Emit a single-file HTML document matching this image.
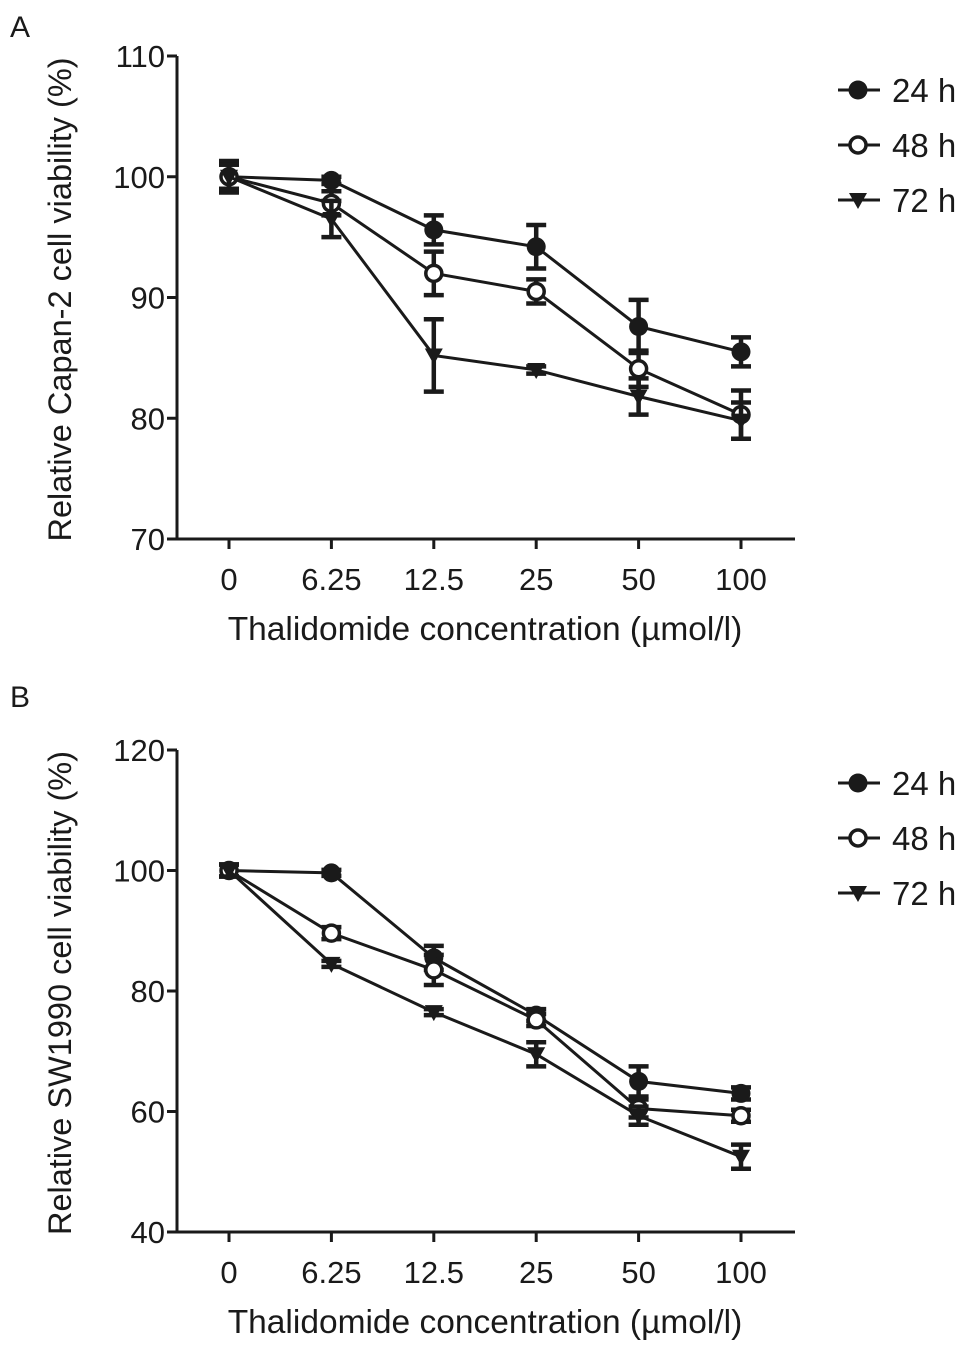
<!DOCTYPE html>
<html><head><meta charset="utf-8"><style>
body{margin:0;background:#fff}
svg text{font-family:"Liberation Sans",Arial,sans-serif;fill:#1a1a1a}
</style></head><body>
<svg id="chart" width="969" height="1352" viewBox="0 0 969 1352" xmlns="http://www.w3.org/2000/svg"></svg>
<script>
const categories=["0","6.25","12.5","25","50","100"];
const seriesNames=["24 h","48 h","72 h"];
const aTicks=[70,80,90,100,110];
const bTicks=[40,60,80,100,120];
const a24=[100,99.7,95.6,94.2,87.6,85.5];
const a24e=[1.3,0.3,1.2,1.8,2.2,1.2];
const a48=[100,97.8,92,90.5,84.1,80.3];
const a48e=[1,1,1.8,1,1.5,2];
const a72=[100,96.5,85.2,84.0,81.8,79.8];
const a72e=[1,1.5,3,0.3,1.5,1.5];
const b24=[100,99.6,85.5,76,65,63];
const b24e=[1,0.5,2,1,2.5,1];
const b48=[100,89.6,83.5,75.2,60.5,59.3];
const b48e=[1,1,2.5,1,1.5,1];
const b72=[100,84.5,76.5,69.5,59.3,52.5];
const b72e=[1,0.5,0.5,2,1.5,2];

const NS="http://www.w3.org/2000/svg";
const svg=document.getElementById('chart');
function el(tag,attrs,parent){const e=document.createElementNS(NS,tag);for(const k in attrs)e.setAttribute(k,attrs[k]);(parent||svg).appendChild(e);return e;}

function panel(cfg){
  const g=el('g',{});
  
  
  const x0=177,x1=795,top=cfg.top,bot=cfg.bot;
  const ymin=cfg.ticks[0],ymax=cfg.ticks[cfg.ticks.length-1];
  const y=v=>bot-(v-ymin)/(ymax-ymin)*(bot-top);
  const x=i=>229+i*102.4;
  const ax=el('path',{d:`M${x0},${top}V${bot}H${x1}`,stroke:'#1a1a1a','stroke-width':3,fill:'none'},g);
  
  
  cfg.ticks.forEach(t=>{
    el('line',{x1:x0-10,x2:x0,y1:y(t),y2:y(t),stroke:'#1a1a1a','stroke-width':3},g);
    const tx=el('text',{x:x0-12,y:y(t)+11,'text-anchor':'end','font-size':31},g);
    tx.textContent=t;
    
    
  });
  categories.forEach((c,i)=>{
    el('line',{x1:x(i),x2:x(i),y1:bot,y2:bot+10,stroke:'#1a1a1a','stroke-width':3},g);
    const tx=el('text',{x:x(i),y:bot+51,'text-anchor':'middle','font-size':31},g);
    tx.textContent=c;
    
    
  });
  const xt=el('text',{x:485,y:bot+101,'text-anchor':'middle','font-size':33.5},g);
  xt.textContent='Thalidomide concentration (µmol/l)';
  
  
  const cy=(top+bot)/2+2;
  const yt=el('text',{x:71,y:cy,'text-anchor':'middle','font-size':32.5,transform:`rotate(-90 71 ${cy})`},g);
  yt.textContent=cfg.ytitle;
  
  
  const pl=el('text',{x:10,y:cfg.labelY,'font-size':30},g);
  pl.textContent=cfg.label;
  
  
  const marker=(type,cx,cyv,parent)=>{
    if(type===0)el('circle',{cx:cx,cy:cyv,r:9.5,fill:'#1a1a1a'},parent);
    else if(type===1)el('circle',{cx:cx,cy:cyv,r:8,fill:'#fff',stroke:'#1a1a1a','stroke-width':3.5},parent);
    else el('path',{d:`M${cx-9},${cyv-7}H${cx+9}L${cx},${cyv+9}Z`,fill:'#1a1a1a'},parent);
  };
  cfg.series.forEach((s,k)=>{
    const sg=el('g',{},g);
    
    
    el('polyline',{points:s.v.map((v,i)=>x(i)+','+y(v)).join(' '),fill:'none',stroke:'#1a1a1a','stroke-width':3},sg);
    s.v.forEach((v,i)=>{
      const e=s.e[i];
      el('path',{d:`M${x(i)},${y(v-e)}V${y(v+e)}M${x(i)-10},${y(v-e)}H${x(i)+10}M${x(i)-10},${y(v+e)}H${x(i)+10}`,stroke:'#1a1a1a','stroke-width':4.5,fill:'none'},sg);
      marker(k,x(i),y(v),sg);
    });
    const ly=cfg.legendY+k*55;
    const lg=el('g',{},g);
    
    
    el('line',{x1:838,x2:880,y1:ly,y2:ly,stroke:'#1a1a1a','stroke-width':3},lg);
    marker(k,858,ly,lg);
    const lt=el('text',{x:892,y:ly+12,'font-size':33},lg);
    lt.textContent=seriesNames[k];
  });
}
panel({name:'panel-a',top:56,bot:539,ticks:aTicks,label:'A',labelY:37,legendY:90,
  ytitle:'Relative Capan-2 cell viability (%)',
  series:[{v:a24,e:a24e},{v:a48,e:a48e},{v:a72,e:a72e}]});
panel({name:'panel-b',top:750,bot:1232,ticks:bTicks,label:'B',labelY:707,legendY:783,
  ytitle:'Relative SW1990 cell viability (%)',
  series:[{v:b24,e:b24e},{v:b48,e:b48e},{v:b72,e:b72e}]});
</script>
</body></html>
